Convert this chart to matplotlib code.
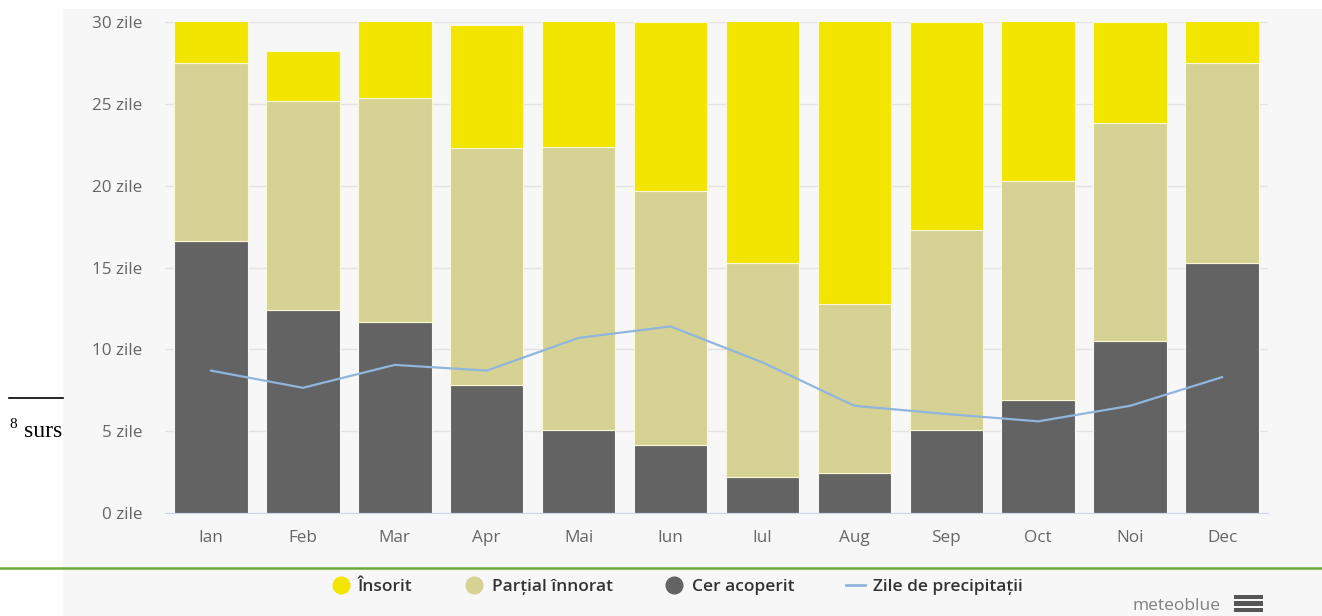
import matplotlib
matplotlib.use("Agg")
import matplotlib.pyplot as plt
from matplotlib.patches import Rectangle
from matplotlib.lines import Line2D
import numpy as np

luni = ["Ian", "Feb", "Mar", "Apr", "Mai", "Iun", "Iul", "Aug", "Sep", "Oct", "Noi", "Dec"]
cer_acoperit = [16.6, 12.4, 11.7, 7.8, 5.1, 4.15, 2.2, 2.45, 5.1, 6.9, 10.5, 15.3]
partial_innorat = [10.9, 12.8, 13.65, 14.5, 17.25, 15.55, 13.1, 10.35, 12.2, 13.4, 13.3, 12.2]
insorit = [3.5, 3.0, 5.65, 7.5, 8.65, 10.3, 15.7, 18.2, 12.7, 10.7, 6.2, 3.5]
precipitatii = [8.7, 7.65, 9.05, 8.7, 10.7, 11.4, 9.2, 6.55, 6.05, 5.6, 6.55, 8.3]
y_ticks = [0, 5, 10, 15, 20, 25, 30]

c_sun = "#f2e600"
c_part = "#d6d293"
c_over = "#636363"
c_prec = "#90b6de"
panel = "#f7f7f7"

fig = plt.figure(figsize=(13.22, 6.16), dpi=100)
fig.patch.set_facecolor("white")

# grey panel of the screenshot
fig.patches.append(Rectangle((63/1322, 0), 1, 1 - 9/616, transform=fig.transFigure,
                             facecolor=panel, edgecolor="none", zorder=-10))

ax = fig.add_axes([165/1322, 1 - 513/616, 1103/1322, 491/616])
ax.set_facecolor(panel)
ax.set_zorder(2)

x = np.arange(len(luni))
w = 0.8
over = np.array(cer_acoperit)
part = np.array(partial_innorat)
sun = np.array(insorit)
ax.bar(x, over, w, color=c_over, edgecolor="#f7f7f7", linewidth=0.8, zorder=2)
ax.bar(x, part, w, bottom=over, color=c_part, edgecolor="#fbf8d8", linewidth=0.8, zorder=2)
ax.bar(x, sun, w, bottom=over + part, color=c_sun, edgecolor="#fbf8d8", linewidth=0.8, zorder=2)
ax.plot(x, precipitatii, color=c_prec, linewidth=1.6, zorder=3)

ax.set_xlim(-0.5, 11.5)
ax.set_ylim(0, 30)
ax.set_yticks(y_ticks)
ax.set_yticklabels([f"{v} zile" for v in y_ticks])
ax.set_xticks(x)
ax.set_xticklabels(luni)
ax.grid(axis="y", color="#e3e3e3", linewidth=1, zorder=0)
ax.set_axisbelow(True)
for s in ["top", "right", "left"]:
    ax.spines[s].set_visible(False)
ax.spines["bottom"].set_color("#ccd6eb")
ax.tick_params(axis="both", length=0, colors="#666666", labelsize=12.3)
ax.tick_params(axis="y", pad=16.5)
ax.tick_params(axis="x", pad=12.5)
for t in ax.get_xticklabels() + ax.get_yticklabels():
    t.set_family("Open Sans")

handles = [
    Line2D([], [], marker="o", linestyle="none", markersize=12, color=c_sun),
    Line2D([], [], marker="o", linestyle="none", markersize=12, color=c_part),
    Line2D([], [], marker="o", linestyle="none", markersize=12, color=c_over),
    Line2D([], [], color=c_prec, linewidth=2),
]
labels = ["Însorit", "Parțial înnorat", "Cer acoperit", "Zile de precipitații"]
fig.legend(handles, labels, loc="center", bbox_to_anchor=(677/1322, 1 - 587/616), ncol=4,
           frameon=False, prop={"family": "Open Sans", "weight": "semibold", "size": 12.5},
           labelcolor="#333333", handlelength=1.1, handletextpad=0.45, columnspacing=3.0)

# green separator line
fig.add_artist(Line2D([0, 1], [1 - 568/616, 1 - 568/616], transform=fig.transFigure,
                      color="#6aaa3a", linewidth=1.8))
# black footnote line and text on the left
fig.add_artist(Line2D([9/1322, 63/1322], [1 - 398/616, 1 - 398/616], transform=fig.transFigure,
                      color="black", linewidth=1.2))
fig.text(9/1322, 1 - 424/616, "8", family="Liberation Serif", fontsize=11, va="center")
fig.text(24/1322, 1 - 437/616, "surs", family="Liberation Serif", fontsize=17, va="baseline")
# cover "surs" overflow with panel
fig.patches.append(Rectangle((63/1322, 1 - 450/616), 40/1322, 50/616, transform=fig.transFigure,
                             facecolor=panel, edgecolor="none", zorder=5))

fig.text(1221/1322, 1 - 606/616, "meteoblue", family="Open Sans", fontsize=12.5, color="#808080",
         ha="right", va="center")
for yy in [597, 603.5, 610]:
    fig.patches.append(Rectangle((1234/1322, 1 - (yy + 2)/616), 29/1322, 4.5/616,
                                 transform=fig.transFigure, facecolor="#555555",
                                 edgecolor="none"))

fig.savefig("out.png", dpi=100)
